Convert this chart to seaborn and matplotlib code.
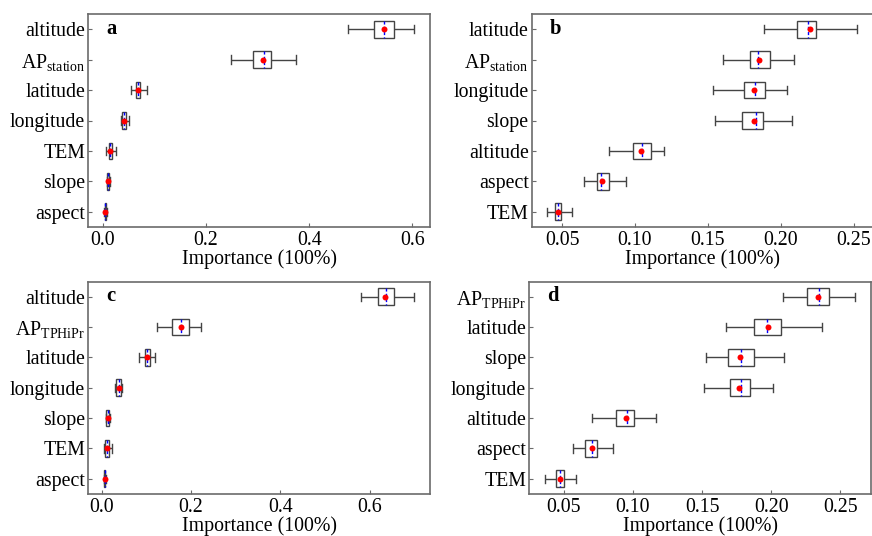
import matplotlib
matplotlib.use("Agg")
import matplotlib.pyplot as plt
from matplotlib.ticker import FormatStrFormatter, FixedLocator
import seaborn as sns
import pandas as pd

# ---------------- data ----------------
AP_ST = r"AP$_{\mathrm{station}}$"
AP_TP = r"AP$_{\mathrm{TPHiPr}}$"

feat_a = ["altitude", AP_ST, "latitude", "longitude", "TEM", "slope", "aspect"]
lo_a   = [0.475, 0.249, 0.055, 0.035, 0.0070, 0.0083, 0.0020]
q1_a   = [0.526, 0.292, 0.064, 0.037, 0.0116, 0.0096, 0.0040]
med_a  = [0.545, 0.313, 0.069, 0.042, 0.0148, 0.0110, 0.0050]
q3_a   = [0.565, 0.327, 0.0726, 0.0456, 0.0180, 0.0128, 0.0064]
hi_a   = [0.604, 0.374, 0.086, 0.051, 0.0257, 0.0140, 0.0080]
mean_a = [0.545, 0.310, 0.069, 0.042, 0.0148, 0.0110, 0.0055]

feat_b = ["latitude", AP_ST, "longitude", "slope", "altitude", "aspect", "TEM"]
lo_b   = [0.1888, 0.1607, 0.1538, 0.1550, 0.0819, 0.0648, 0.0397]
q1_b   = [0.2112, 0.1791, 0.1749, 0.1737, 0.0986, 0.0740, 0.0449]
med_b  = [0.2189, 0.1847, 0.1826, 0.1831, 0.1050, 0.0769, 0.0470]
q3_b   = [0.2242, 0.1927, 0.1890, 0.1881, 0.1110, 0.0819, 0.0495]
hi_b   = [0.2527, 0.2091, 0.2041, 0.2075, 0.1201, 0.0940, 0.0568]
mean_b = [0.2201, 0.1853, 0.1817, 0.1817, 0.1041, 0.0776, 0.0475]

feat_c = ["altitude", AP_TP, "latitude", "longitude", "slope", "TEM", "aspect"]
lo_c   = [0.5814, 0.1252, 0.0841, 0.0305, 0.0096, 0.0052, 0.0045]
q1_c   = [0.6200, 0.1588, 0.0984, 0.0335, 0.0104, 0.0074, 0.0052]
med_c  = [0.6373, 0.1773, 0.1029, 0.0380, 0.0134, 0.0112, 0.0067]
q3_c   = [0.6543, 0.1959, 0.1087, 0.0425, 0.0171, 0.0157, 0.0082]
hi_c   = [0.7006, 0.2236, 0.1199, 0.0462, 0.0186, 0.0230, 0.0096]
mean_c = [0.6357, 0.1773, 0.1029, 0.0380, 0.0134, 0.0112, 0.0067]

feat_d = [AP_TP, "latitude", "slope", "longitude", "altitude", "aspect", "TEM"]
lo_d   = [0.2085, 0.1674, 0.1530, 0.1511, 0.0708, 0.0568, 0.0363]
q1_d   = [0.2260, 0.1877, 0.1688, 0.1700, 0.0876, 0.0656, 0.0448]
med_d  = [0.2344, 0.1968, 0.1782, 0.1782, 0.0955, 0.0704, 0.0476]
q3_d   = [0.2416, 0.2073, 0.1872, 0.1846, 0.1008, 0.0740, 0.0501]
hi_d   = [0.2608, 0.2363, 0.2093, 0.2016, 0.1171, 0.0855, 0.0589]
mean_d = [0.2339, 0.1978, 0.1777, 0.1767, 0.0950, 0.0704, 0.0476]

ticks_ac = [0.0, 0.2, 0.4, 0.6]
ticks_bd = [0.05, 0.10, 0.15, 0.20, 0.25]

# ---------------- style ----------------
plt.rcParams["font.family"] = ["Liberation Serif", "DejaVu Serif"]
plt.rcParams["mathtext.fontset"] = "custom"
plt.rcParams["mathtext.rm"] = "Liberation Serif"
plt.rcParams["mathtext.it"] = "Liberation Serif:italic"
plt.rcParams["mathtext.bf"] = "Liberation Serif:bold"
FS = 14.3
SPINE = "#6b6b6b"
EDGE = "#444444"

fig = plt.figure(figsize=(8.72, 5.36), dpi=100)
W, H = 872, 536
def axpos(left, top, right, bottom):
    return [left / W, 1 - bottom / H, (right - left) / W, (bottom - top) / H]

panels = [
    ("a", feat_a, lo_a, q1_a, med_a, q3_a, hi_a, mean_a, ticks_ac, "%.1f", axpos(88, 14, 430, 227)),
    ("b", feat_b, lo_b, q1_b, med_b, q3_b, hi_b, mean_b, ticks_bd, "%.2f", axpos(531.5, 14, 873, 227)),
    ("c", feat_c, lo_c, q1_c, med_c, q3_c, hi_c, mean_c, ticks_ac, "%.1f", axpos(88, 281.5, 430, 494)),
    ("d", feat_d, lo_d, q1_d, med_d, q3_d, hi_d, mean_d, ticks_bd, "%.2f", axpos(529, 281.5, 871, 494)),
]

for lab, feats, lo, q1, med, q3, hi, mn, ticks, fmt, pos in panels:
    ax = fig.add_axes(pos)
    rows = []
    for f, a, b, c, d, e in zip(feats, lo, q1, med, q3, hi):
        for v in (a, b, c, d, e):
            rows.append({"feature": f, "value": v})
    df = pd.DataFrame(rows)
    dm = pd.DataFrame({"feature": feats, "value": mn})

    sns.boxplot(data=df, x="value", y="feature", order=feats, orient="h",
                whis=(0, 100), width=0.55, color="white", linecolor=EDGE,
                linewidth=1.0, showfliers=False,
                medianprops=dict(color="blue", linestyle=(0, (2.2, 1.6)), linewidth=1.0),
                ax=ax)
    sns.stripplot(data=dm, x="value", y="feature", order=feats, orient="h",
                  jitter=False, color="red", size=4.3, linewidth=0, zorder=5, ax=ax)

    ax.set_ylabel("")
    ax.set_xlabel("Importance (100%)", fontsize=FS, labelpad=-0.5)
    ax.xaxis.set_major_locator(FixedLocator(ticks))
    ax.xaxis.set_major_formatter(FormatStrFormatter(fmt))
    ax.tick_params(axis="both", labelsize=FS, direction="in", length=3,
                   color=SPINE, width=0.8, pad=3)
    ax.tick_params(axis="y", pad=2)
    for s in ax.spines.values():
        s.set_color(SPINE)
        s.set_linewidth(1.2)
        s.set_visible(True)
    ax.grid(False)
    ax.text(0.053, 0.93, lab, transform=ax.transAxes, fontsize=FS + 0.5,
            fontweight="bold", ha="left", va="center")

fig.savefig("out.png", dpi=100)
